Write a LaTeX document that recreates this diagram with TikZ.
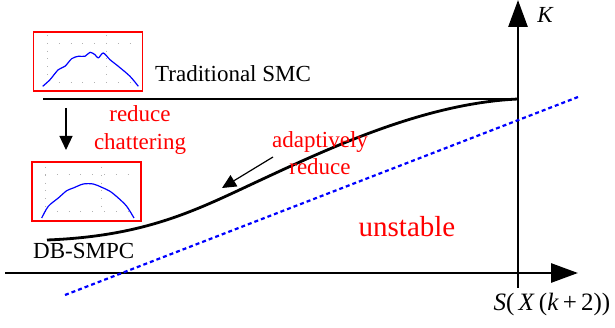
\documentclass[tikz,border=0pt]{standalone}
\usepackage{fontspec}
\setmainfont{Liberation Serif}
\usetikzlibrary{arrows.meta}

\begin{document}
\begin{tikzpicture}[
    x=1pt, y=-1pt,
    every node/.style={inner sep=0pt, font=\fontsize{23}{28}\selectfont},
    eje/.style={line width=2.8pt, -{Triangle[length=27pt,width=19pt]}},
    curva/.style={line width=2.8pt},
    flecha/.style={line width=1.2pt, -{Triangle[length=14pt,width=13pt]}},
    recuadro/.style={draw=red, line width=1.8pt, minimum width=109pt, minimum height=59pt},
    rejilla/.style={gray!60, line width=.8pt, dash pattern=on .8pt off 7pt},
    senal/.style={blue, line width=1.2pt, line join=round}]
    \useasboundingbox (0,0) rectangle (615,328);

    % Ejes S y K.
    \draw[eje] (5,273) -- (578,273);
    \draw[eje] (518,288) -- (518,0);
    \node[anchor=base, font=\fontsize{23}{28}\selectfont\itshape] (lk) at (545,23) {K};
    \node[anchor=base, font=\fontsize{25}{30}\selectfont] (ls) at (552,310)
        {\textit{S}(\,\textit{X}\,(\textit{k}\,+\,2))};

    % Ganancia constante del SMC tradicional.
    \coordinate (tl) at (43,99);
    \coordinate (tr) at (518,99);
    \draw[curva] (tl) -- (tr);

    % Ganancia del DB-SMPC, que baja de forma adaptativa.
    \coordinate (dl) at (47,240);
    \draw[curva] (dl) .. controls (150,236) and (200,208) .. (265,178)
        .. controls (340,143) and (430,103) .. (tr);

    % Frontera de la zona inestable.
    \draw[blue, line width=2.2pt, dash pattern=on 4pt off 3pt] (65,295) -- (578,97);

    % Recuadro con castañeo (arriba).
    \node[recuadro] (antes) at (88,61.5) {};
    \draw[rejilla] (47,35) -- (47,84) (106,35) -- (106,84);
    \draw[rejilla, dash pattern=on .8pt off 11pt] (47,43) -- (134,43) (47,82) -- (134,82);
    \draw[senal] plot[smooth, tension=.5] coordinates {(42.7,86.3) (50,79.7) (58.3,69.7)
        (65,66.3) (71.7,58.7) (78.3,56.3) (85,56.3) (90,52.3) (95,54.7) (98.3,58)
        (103.3,53) (110,59.7) (118.3,66.3) (130,76.3) (138.3,86.3)};

    % Recuadro sin castañeo (abajo).
    \node[recuadro] (despues) at (86.5,191.5) {};
    \draw[rejilla] (45,167) -- (45,213) (101,167) -- (101,213);
    \draw[rejilla, dash pattern=on .8pt off 11pt] (45,174) -- (134,174) (45,211) -- (134,211);
    \draw[senal] plot[smooth, tension=.5] coordinates {(41.7,218) (48.3,206.3) (58.3,198)
        (66.7,190.7) (73.3,188) (83.3,184) (93.3,184) (101.7,187.3) (110,191.3)
        (118.3,198) (126.7,206.3) (134,218)};

    % Textos.
    \node[anchor=base west] (tsmc) at (155,82) {Traditional SMC};
    \node[anchor=base west] (dbsmpc) at (33,259) {DB-SMPC};
    \node[red, anchor=base] (red1) at (140,122) {reduce};
    \node[red, anchor=base] (chat) at (140,150) {chattering};
    \node[red, anchor=base] (adap) at (320,148) {adaptively};
    \node[red, anchor=base] (red2) at (320,175) {reduce};
    \node[red, anchor=base, font=\fontsize{29}{34}\selectfont] (inest) at (407,237) {unstable};

    % Flechas.
    \coordinate (a1) at (66,108);
    \coordinate (a2) at (66,150);
    \draw[flecha] (a1) -- (a2);
    \coordinate (b1) at (273,157);
    \coordinate (b2) at (222,188);
    \draw[flecha] (b1) -- (b2);
\end{tikzpicture}
\end{document}
